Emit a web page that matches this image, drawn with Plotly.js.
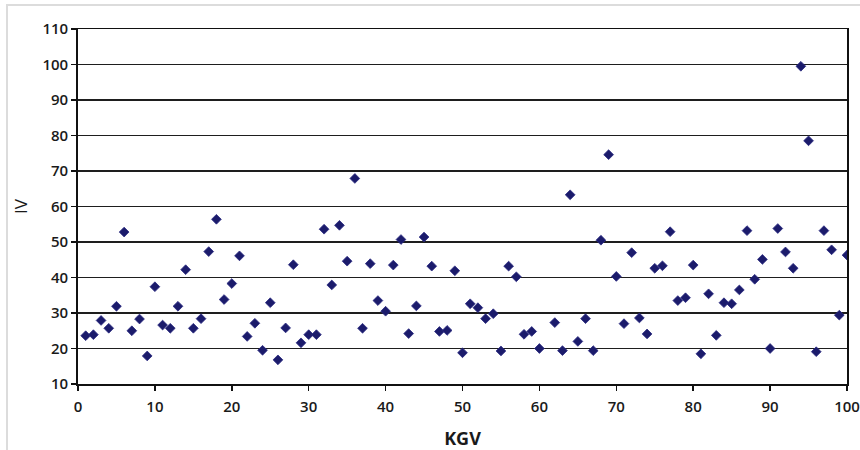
<!DOCTYPE html>
<html>
<head>
<meta charset="utf-8">
<script src="https://cdn.plot.ly/plotly-3.0.1.min.js"></script>
<style>
  html, body { margin: 0; padding: 0; background: #fff; }
  #chart { width: 860px; height: 450px; }
</style>
</head>
<body>
<div id="chart"></div>
<script>
// KGV values (x) and IV values (y)
const kgv = [
  1, 2, 3, 4, 5, 6, 7, 8, 9, 10,
  11, 12, 13, 14, 15, 16, 17, 18, 19, 20,
  21, 22, 23, 24, 25, 26, 27, 28, 29, 30,
  31, 32, 33, 34, 35, 36, 37, 38, 39, 40,
  41, 42, 43, 44, 45, 46, 47, 48, 49, 50,
  51, 52, 53, 54, 55, 56, 57, 58, 59, 60,
  62, 63, 64, 65, 66, 67, 68, 69, 70,
  71, 72, 73, 74, 75, 76, 77, 78, 79, 80,
  81, 82, 83, 84, 85, 86, 87, 88, 89, 90,
  91, 92, 93, 94, 95, 96, 97, 98, 99, 100
];
const iv = [
  23.6, 23.9, 27.9, 25.7, 31.9, 52.8, 25.0, 28.3, 17.9, 37.4,
  26.6, 25.7, 31.9, 42.2, 25.7, 28.4, 47.3, 56.4, 33.8, 38.3,
  46.1, 23.4, 27.1, 19.5, 32.9, 16.8, 25.8, 43.6, 21.6, 23.9,
  23.9, 53.6, 37.9, 54.7, 44.6, 67.9, 25.7, 43.9, 33.5, 30.5,
  43.5, 50.7, 24.2, 32.0, 51.4, 43.2, 24.8, 25.1, 41.9, 18.8,
  32.6, 31.5, 28.4, 29.8, 19.3, 43.2, 40.2, 24.0, 24.8, 20.0,
  27.3, 19.4, 63.3, 22.0, 28.4, 19.4, 50.5, 74.6, 40.3,
  27.0, 47.0, 28.6, 24.1, 42.6, 43.3, 52.9, 33.5, 34.3, 43.5,
  18.5, 35.4, 23.7, 32.9, 32.6, 36.5, 53.2, 39.5, 45.1, 20.0,
  53.8, 47.2, 42.6, 99.5, 78.5, 19.1, 53.2, 47.8, 29.4, 46.3
];
const xTicks = [0, 10, 20, 30, 40, 50, 60, 70, 80, 90, 100];
const yTicks = [10, 20, 30, 40, 50, 60, 70, 80, 90, 100, 110];

const tickFont = { family: 'Open Sans, Noto Sans, sans-serif', size: 15, color: '#1a1a1a', weight: 600 };

const trace = {
  x: kgv,
  y: iv,
  type: 'scatter',
  mode: 'markers',
  marker: { symbol: 'diamond', size: 7.5, color: '#1b1b6b', line: { width: 0.8, color: '#2a2a80' } },
  hoverinfo: 'x+y'
};

const layout = {
  width: 860,
  height: 450,
  margin: { l: 78, r: 13, t: 29, b: 66 },
  paper_bgcolor: '#ffffff',
  plot_bgcolor: '#ffffff',
  showlegend: false,
  xaxis: {
    range: [0, 100],
    tickmode: 'array',
    tickvals: xTicks,
    ticktext: xTicks.map(String),
    ticks: 'outside',
    ticklen: 5,
    tickwidth: 1.5,
    tickcolor: '#111',
    ticklabelstandoff: 3,
    showgrid: false,
    zeroline: false,
    showline: true,
    linecolor: '#111',
    linewidth: 1.5,
    mirror: true,
    tickfont: tickFont,
    title: { text: 'KGV', font: { family: 'Open Sans, Noto Sans, sans-serif', size: 18, color: '#1a1a1a', weight: 700 }, standoff: 18 }
  },
  yaxis: {
    range: [10, 110],
    tickmode: 'array',
    tickvals: yTicks,
    ticktext: yTicks.map(String),
    ticks: 'outside',
    ticklen: 5,
    tickwidth: 1.5,
    tickcolor: '#111',
    showgrid: true,
    gridcolor: '#1e1e1e',
    gridwidth: 1.8,
    zeroline: false,
    showline: true,
    linecolor: '#111',
    linewidth: 1.8,
    mirror: true,
    tickfont: tickFont,
    title: { text: 'IV', font: { family: 'Open Sans, Noto Sans, sans-serif', size: 17, color: '#1a1a1a' }, standoff: 10 }
  },
  shapes: [{
    type: 'rect', xref: 'paper', yref: 'paper',
    x0: -0.0923, x1: 1.2, y0: -0.5, y1: 1.0675,
    line: { color: '#dcdcdc', width: 2 },
    layer: 'below'
  }]
};

Plotly.newPlot('chart', [trace], layout, { displayModeBar: false, staticPlot: true });
</script>
</body>
</html>
